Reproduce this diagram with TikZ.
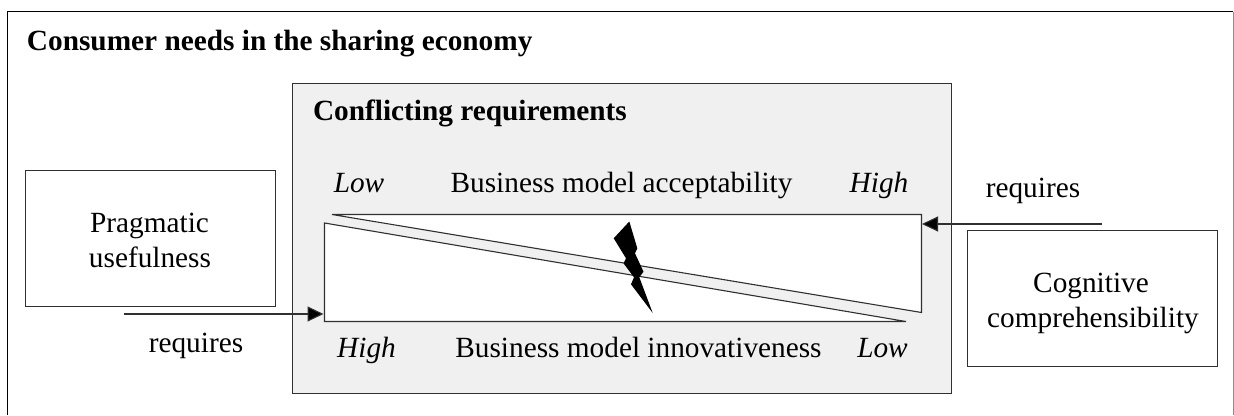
\documentclass[tikz,border=0pt]{standalone}
\usepackage{fontspec}
\setmainfont{Liberation Serif}
\usetikzlibrary{arrows.meta}
\definecolor{panelgray}{HTML}{F0F0F0}
\definecolor{inkline}{HTML}{303030}
\tikzset{
  lbl/.style={anchor=base,inner sep=0pt,outer sep=0pt,font=\fontsize{29.3}{35}\selectfont},
  lblb/.style={lbl,anchor=base west,font=\fontsize{29.3}{35}\selectfont\bfseries},
  lbli/.style={lbl,font=\fontsize{29.3}{35}\selectfont\itshape},
  sidebox/.style={draw=inkline,line width=1.1pt,fill=white,inner sep=0pt,outer sep=0pt,
    minimum width=250pt,minimum height=136pt},
  wedge/.style={draw=inkline,line width=1.1pt,fill=white,line join=miter},
  req/.style={draw=inkline,line width=1.1pt,-{Triangle[length=16pt,width=15pt,fill=black]}}
}
\begin{document}
\begin{tikzpicture}[x=1pt,y=-1pt]
\useasboundingbox (0,0) rectangle (1234,415);
% outer frame (open at the bottom)
\draw[black,line width=1.2pt] (7.5,415) -- (7.5,11.5) -- (1232.5,11.5);
\draw[black!45,line width=1pt] (1233,11.5) -- (1233,415);
% panel
\node[draw=inkline,fill=panelgray,line width=1.2pt,minimum width=659pt,minimum height=310pt,inner sep=0pt,outer sep=0pt,anchor=north west] (panel) at (292.5,83.5) {};
% boxes
\node[sidebox] (prag) at (150.5,238.5) {};
\node[sidebox] (cog) at (1092.5,298.5) {};
% wedges
\coordinate (ua) at (332,214.5);
\coordinate (ub) at (921.5,214.5);
\coordinate (uc) at (921.5,312.5);
\coordinate (la) at (324.5,223);
\coordinate (lb) at (324.5,321.5);
\coordinate (lc) at (906,321.5);
\draw[wedge] (ua) -- (ub) -- (uc) -- cycle;
\draw[wedge] (la) -- (lb) -- (lc) -- cycle;
% lightning bolt
\fill[black] (629.3,221.5) -- (637.3,248.3) -- (635,253.3) -- (643.5,271.7) -- (639.3,277.3) -- (652.7,313)
  -- (631,284.3) -- (634,277.3) -- (623.5,263.3) -- (626,258.3) -- (613.7,238.3) -- cycle;
% arrows
\coordinate (lstart) at (124,314);
\coordinate (lend) at (323.5,314);
\coordinate (rstart) at (1102,224);
\coordinate (rend) at (922,224);
\draw[req] (lstart) -- (lend);
\draw[req] (rstart) -- (rend);
% labels
\node[lblb] (title) at (27,50) {Consumer needs in the sharing economy};
\node[lblb] (conf) at (313,120.5) {Conflicting requirements};
\node[lbli] (lowa) at (359,192) {Low};
\node[lbl] (acc) at (621.5,192) {Business model acceptability};
\node[lbli] (higha) at (879,192) {High};
\node[lbl] (reqr) at (1033,197) {requires};
\node[lbl] (reql) at (196,352) {requires};
\node[lbli] (highb) at (366.5,357.5) {High};
\node[lbl] (inn) at (638.5,357.5) {Business model innovativeness};
\node[lbli] (lowb) at (882.5,357.5) {Low};
\node[lbl] (pragA) at (149.5,232) {Pragmatic};
\node[lbl] (pragB) at (150,267) {usefulness};
\node[lbl] (cogA) at (1091,292) {Cognitive};
\node[lbl] (cogB) at (1093,327) {comprehensibility};
\end{tikzpicture}
\end{document}
